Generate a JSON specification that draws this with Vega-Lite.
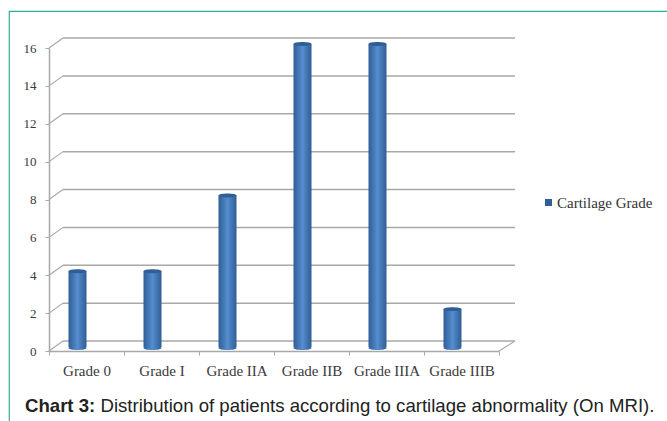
{
"$schema":"https://vega.github.io/schema/vega-lite/v6.json",
"autosize":{"type":"none"},
"padding":{"left":9,"top":11,"right":0,"bottom":0},
"width":700,"height":450,
"background":"white",
"view":{"stroke":"#2fae9b","strokeWidth":1.2,"fill":"white"},
"title":{"text":"Chart 3:","orient":"top","anchor":"start","frame":"group","dx":16,"dy":419.5,"offset":0,"font":"Liberation Sans","fontWeight":"bold","fontSize":18.6,"color":"#222222","baseline":"alphabetic"},
"datasets":{
"grades":[
{"grade":"Grade 0","count":4,"series":"Cartilage Grade"},
{"grade":"Grade I","count":4,"series":"Cartilage Grade"},
{"grade":"Grade IIA","count":8,"series":"Cartilage Grade"},
{"grade":"Grade IIB","count":16,"series":"Cartilage Grade"},
{"grade":"Grade IIIA","count":16,"series":"Cartilage Grade"},
{"grade":"Grade IIIB","count":2,"series":"Cartilage Grade"}],
"ticks":[{"t":0},{"t":2},{"t":4},{"t":6},{"t":8},{"t":10},{"t":12},{"t":14},{"t":16}]
},
"layer":[
{"data":{"name":"ticks"},
"layer":[
{"mark":{"type":"rule","color":"#a8a8a8","strokeWidth":1.5,"yOffset":-10,"y2Offset":-10},
"encoding":{"x":{"datum":0,"type":"quantitative","axis":null,"scale":{"domain":[0,1],"range":[54,506]}},"x2":{"datum":1},"y":{"field":"t","type":"quantitative","scale":{"domain":[0,16],"range":[340,37],"nice":false},
"axis":{"values":[0,2,4,6,8,10,12,14,16],"offset":-40,"grid":false,"domainColor":"#a8a8a8","domainWidth":1.5,"tickColor":"#a8a8a8","tickSize":4,"labelFont":"Liberation Serif","labelFontSize":13,"labelColor":"#3a3a3a","labelPadding":9,"title":null}},"y2":{"field":"t"}}},
{"mark":{"type":"rule","color":"#a8a8a8","strokeWidth":1.2,"xOffset":-14,"y2Offset":-10},
"encoding":{"x":{"datum":0,"type":"quantitative","axis":null},"x2":{"datum":0},"y":{"field":"t","type":"quantitative"},"y2":{"field":"t"}}},
{"transform":[{"filter":"datum.t==0"}],"mark":{"type":"rule","color":"#a8a8a8","strokeWidth":1.2,"xOffset":-16,"y2Offset":-10},
"encoding":{"x":{"datum":1,"type":"quantitative","axis":null},"x2":{"datum":1},"y":{"field":"t","type":"quantitative"},"y2":{"field":"t"}}}
]},
{"data":{"name":"grades"},
"encoding":{"x":{"field":"grade","type":"nominal","sort":null,
"scale":{"range":[40,490],"paddingInner":0,"paddingOuter":0},
"axis":{"orient":"bottom","offset":-110,"labelAngle":0,"domainColor":"#a8a8a8","domainWidth":1.5,"tickColor":"#a8a8a8","tickSize":4,"tickBand":"extent","labelFont":"Liberation Serif","labelFontSize":15,"labelColor":"#3a3a3a","labelPadding":8,"grid":false,
"title":"Distribution of patients according to cartilage abnormality (On MRI).","titleFont":"Liberation Sans","titleFontWeight":"normal","titleFontSize":18.6,"titleColor":"#222222","titleAlign":"left","titleBaseline":"alphabetic","titleAnchor":"start","titleX":91,"titleY":60}}},
"layer":[
{"mark":{"type":"bar","width":18,"xOffset":-9,"yOffset":-4,"y2Offset":-3,"fill":{"gradient":"linear","x1":0,"x2":1,"y1":0,"y2":0,"stops":[{"offset":0,"color":"#2e5e96"},{"offset":0.5,"color":"#558dce"},{"offset":1,"color":"#2e5e96"}]}},
"encoding":{"y":{"field":"count","type":"quantitative"}}},
{"mark":{"type":"point","filled":true,"size":324,"opacity":1,"xOffset":-9,"yOffset":-3,"shape":"M-1,0A1,0.22,0,1,1,1,0A1,0.22,0,1,1,-1,0Z","fill":{"gradient":"linear","x1":0,"x2":1,"y1":0,"y2":0,"stops":[{"offset":0,"color":"#2e5e96"},{"offset":0.5,"color":"#558dce"},{"offset":1,"color":"#2e5e96"}]}},
"encoding":{"y":{"datum":0,"type":"quantitative"}}},
{"mark":{"type":"point","filled":true,"size":324,"opacity":1,"xOffset":-9,"yOffset":-4,"shape":"M-1,0A1,0.22,0,1,1,1,0A1,0.22,0,1,1,-1,0Z"},
"encoding":{"y":{"field":"count","type":"quantitative"},
"fill":{"field":"series","type":"nominal","scale":{"range":["#2f5f95"]},
"legend":{"orient":"none","legendX":532,"legendY":184,"title":null,"symbolType":"square","symbolSize":49,"labelFont":"Liberation Serif","labelFontSize":15,"labelColor":"#333333","labelOffset":1,"encode":{"symbols":{"update":{"fill":{"value":"#4a7ebb"},"stroke":{"value":"#4a7ebb"}}}}}}}}
]}
],
"resolve":{"scale":{"x":"independent"}}
}
